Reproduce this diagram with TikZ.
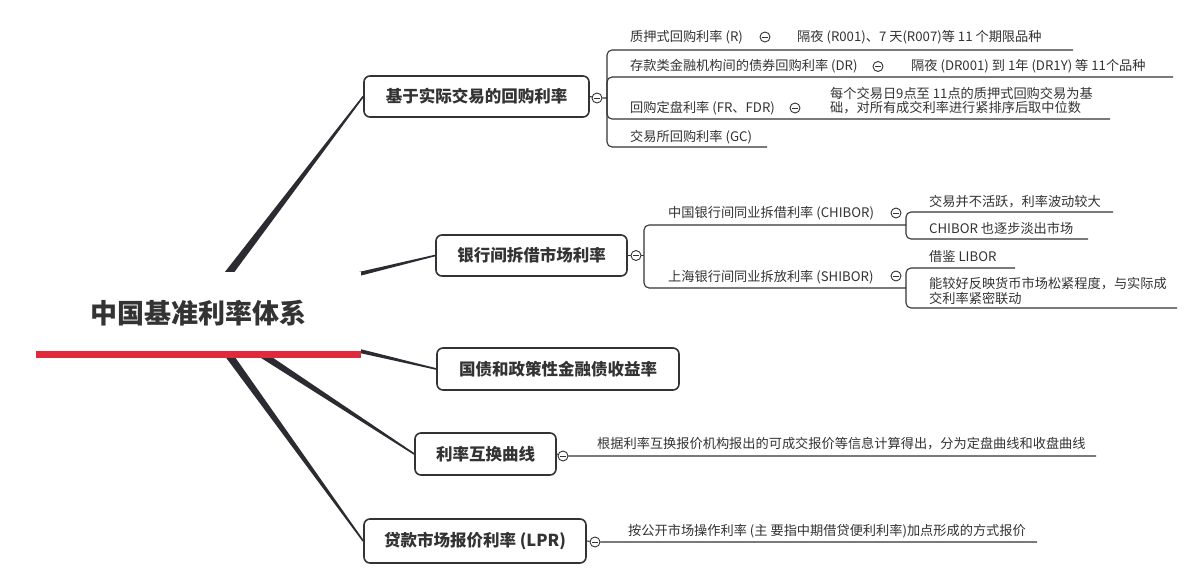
\documentclass[tikz,border=0pt]{standalone}
\usepackage{fontspec}
\setmainfont{Noto Sans CJK SC}
\usetikzlibrary{calc,backgrounds}
\definecolor{ink}{HTML}{333333}
\definecolor{linec}{HTML}{333333}
\definecolor{branchc}{HTML}{2B2B31}
\definecolor{rootred}{HTML}{E1293D}
\newcommand{\taperline}[2]{\fill[branchc] ($(#1)!4.5bp!90:(#2)$) -- ($(#2)!0.8bp!-90:(#1)$) -- ($(#2)!0.8bp!90:(#1)$) -- ($(#1)!4.5bp!-90:(#2)$) -- cycle;}
\tikzset{
  mainbox/.style={draw=ink, line width=1.6bp, rounded corners=6bp, fill=white, inner sep=0pt,
    font=\fontsize{16.5bp}{18bp}\selectfont\bfseries, text=ink},
  rootbox/.style={fill=white, inner sep=0pt, minimum width=325bp, minimum height=82bp,
    font=\fontsize{27bp}{30bp}\selectfont\bfseries, text=ink},
  lbl/.style={anchor=west, inner sep=0pt, font=\fontsize{13.2bp}{14.5bp}\selectfont, text=ink},
  conn/.style={draw=linec, line width=1.1bp},
  brk/.style={conn, rounded corners=5bp},
  collapse/.style={circle, draw=linec, line width=0.9bp, fill=white, minimum size=10bp, inner sep=0pt,
    path picture={\draw[linec, line width=0.9bp] ($(path picture bounding box.center)+(-2.8,0)$) -- ($(path picture bounding box.center)+(2.8,0)$);}},
}
\begin{document}
\begin{tikzpicture}[x=1bp,y=-1bp]
\useasboundingbox (0,0) rectangle (1196,574);
\coordinate (hub) at (198.5,313);

% main topics
\node[mainbox, minimum width=225bp, minimum height=41bp] (b1) at (476.5,96.5) {基于实际交易的回购利率};
\node[mainbox, minimum width=191bp, minimum height=41bp] (b2) at (531.5,255.5) {银行间拆借市场利率};
\node[mainbox, minimum width=242bp, minimum height=42bp] (b3) at (558,369) {国债和政策性金融债收益率};
\node[mainbox, minimum width=141bp, minimum height=42bp] (b4) at (485.5,454) {利率互换曲线};
\node[mainbox, minimum width=222bp, minimum height=44bp] (b5) at (475,541) {贷款市场报价利率 (LPR)};

% root
\node[rootbox] (root) at (hub) {中国基准利率体系};
\draw[rootred, line width=7bp] (root.south west) -- (root.south east);

% collapse markers
\node[collapse] (k1) at (597,98) {};
\node[collapse] (k2) at (636,255.5) {};
\node[collapse] (k4) at (563,456) {};
\node[collapse] (k5) at (595,542) {};
\node[collapse] (k11) at (765,37) {};
\node[collapse] (k12) at (878,66.5) {};
\node[collapse] (k13) at (795,108) {};
\node[collapse] (kd1) at (896,213) {};
\node[collapse] (kd2) at (896,276) {};

% level 2 / 3 texts
\node[lbl] (c1) at (630,37) {质押式回购利率 (R)};
\node[lbl] (g1) at (797,37) {隔夜 (R001)、7 天(R007)等 11 个期限品种};
\node[lbl] (c2) at (630,66.5) {存款类金融机构间的债券回购利率 (DR)};
\node[lbl] (g2) at (911,66.5) {隔夜 (DR001) 到 1年 (DR1Y) 等 11个品种};
\node[lbl] (c3) at (630,108) {回购定盘利率 (FR、FDR)};
\node[lbl, align=left] (g3) at (830,100.5) {每个交易日9点至 11点的质押式回购交易为基\\础，对所有成交利率进行紧排序后取中位数};
\node[lbl] (c4) at (630,137) {交易所回购利率 (GC)};

\node[lbl] (d1) at (668,213) {中国银行间同业拆借利率 (CHIBOR)};
\node[lbl] (d2) at (668,277) {上海银行间同业拆放利率 (SHIBOR)};
\node[lbl] (h1) at (929,201.5) {交易并不活跃，利率波动较大};
\node[lbl] (h2) at (929,228) {CHIBOR 也逐步淡出市场};
\node[lbl] (h3) at (929,256.5) {借鉴 LIBOR};
\node[lbl, align=left] (h4) at (929,291) {能较好反映货币市场松紧程度，与实际成\\交利率紧密联动};

\node[lbl] (s1) at (597,444) {根据利率互换报价机构报出的可成交报价等信息计算得出，分为定盘曲线和收盘曲线};
\node[lbl] (l1) at (628,531) {按公开市场操作利率 (主 要指中期借贷便利利率)加点形成的方式报价};

% junction / end coordinates
\coordinate (j1) at (607,98);
\coordinate (e1) at (1073,50);
\coordinate (e2) at (1173,77);
\coordinate (e3) at (1110,119);
\coordinate (e4) at (767,147);
\coordinate (j2) at (644,255.5);
\coordinate (j21) at (906,225);
\coordinate (j22) at (906,288);
\coordinate (f1) at (1113,212);
\coordinate (f2) at (1088,239);
\coordinate (f3) at (1015,268);
\coordinate (f4) at (1177,308);
\coordinate (e5) at (1096,456);
\coordinate (e6) at (1037,542);

\begin{scope}[on background layer]
  \fill[white] (0,0) rectangle (1196,574);
  \taperline{hub}{b1.west}
  \taperline{hub}{b2.west}
  \taperline{hub}{b3.west}
  \taperline{hub}{b4.west}
  \taperline{hub}{b5.west}

  \draw[conn] (b1.east) -- (k1) -- (j1);
  \draw[brk] (j1) -- (j1 |- e1) -- (e1);
  \draw[brk] (j1) -- (j1 |- e2) -- (e2);
  \draw[brk] (j1) -- (j1 |- e3) -- (e3);
  \draw[brk] (j1) -- (j1 |- e4) -- (e4);

  \draw[conn] (b2.east) -- (k2) -- (j2);
  \draw[brk] (j2) -- (j2 |- j21) -- (j21);
  \draw[brk] (j2) -- (j2 |- j22) -- (j22);
  \draw[brk] (j21) -- (j21 |- f1) -- (f1);
  \draw[brk] (j21) -- (j21 |- f2) -- (f2);
  \draw[brk] (j22) -- (j22 |- f3) -- (f3);
  \draw[brk] (j22) -- (j22 |- f4) -- (f4);

  \draw[conn] (b4.east) -- (k4) -- (e5);
  \draw[conn] (b5.east) -- (k5) -- (e6);
\end{scope}
\end{tikzpicture}
\end{document}
